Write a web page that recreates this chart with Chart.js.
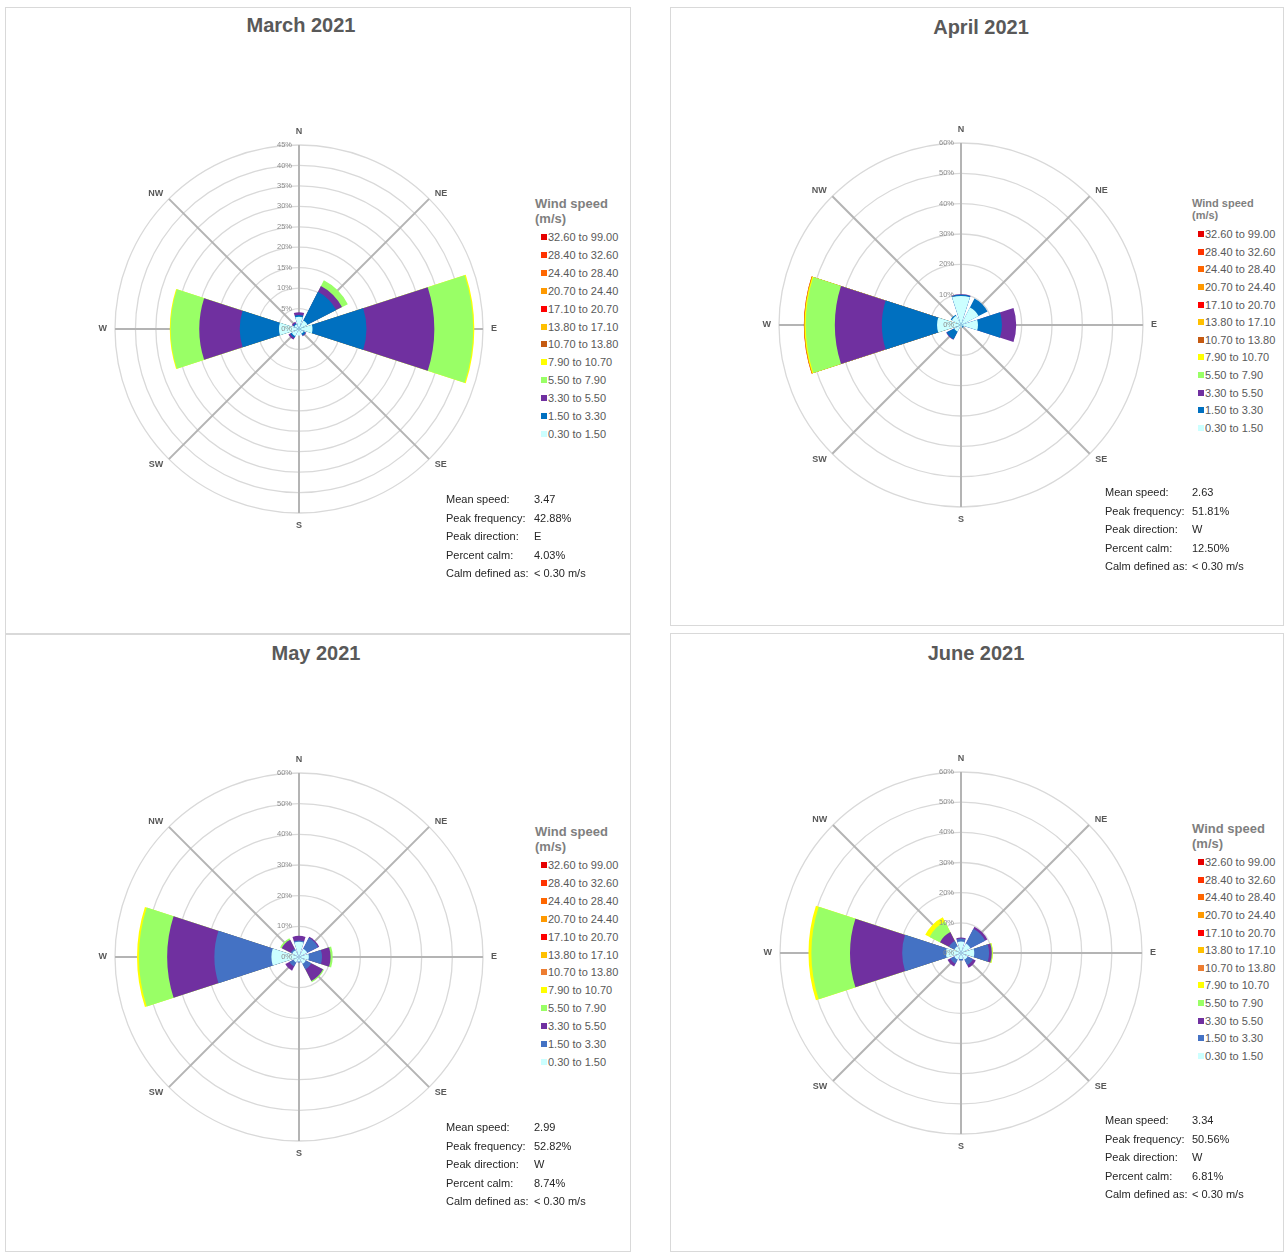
<!DOCTYPE html>
<html>
<head>
<meta charset="utf-8">
<script src="https://cdn.jsdelivr.net/npm/chart.js@4.4.1/dist/chart.umd.min.js"></script>
<style>
  body { margin: 0; width: 1285px; height: 1252px; position: relative; background: #fff; overflow: hidden;
         font-family: 'Liberation Sans', Arial, sans-serif; }
  .box { position: absolute; border: 1px solid #d9d9d9; box-sizing: border-box; }
  .title { position: absolute; font-weight: bold; font-size: 20px; color: #595959; white-space: nowrap; transform: translate(-50%, -50%); }
  .txt { position: absolute; white-space: nowrap; transform: translateY(-50%); line-height: 1; }
  .sq { position: absolute; width: 6px; height: 6px; }
  canvas { position: absolute; }
</style>
</head>
<body>
<script>
// ---- data ----
var directions = ['N', 'NE', 'E', 'SE', 'S', 'SW', 'W', 'NW'];
var speedBins = ['0.30 to 1.50', '1.50 to 3.30', '3.30 to 5.50', '5.50 to 7.90', '7.90 to 10.70', '10.70 to 13.80',
                 '13.80 to 17.10', '17.10 to 20.70', '20.70 to 24.40', '24.40 to 28.40', '28.40 to 32.60', '32.60 to 99.00'];
var statLabels = ['Mean speed:', 'Peak frequency:', 'Peak direction:', 'Percent calm:', 'Calm defined as:'];

// % of time per direction (N, NE, E, SE, S, SW, W, NW), one row per speed bin
var marchFreq = [
    [3.0, 2.3, 3.3, 1.3, 1.6, 2.0, 4.9, 1.3],
    [0.4, 7.9, 13.2, 0.5, 0, 0.4, 9.6, 0.3],
    [0.7, 1.6, 16.6, 0.2, 0, 0.5, 9.9, 0.4],
    [0, 1.6, 9.5, 0, 0, 0, 7.0, 0],
    [0, 0, 0.28, 0, 0, 0, 0.2, 0],
    [0, 0, 0, 0, 0, 0, 0, 0],
    [0, 0, 0, 0, 0, 0, 0, 0],
    [0, 0, 0, 0, 0, 0, 0, 0],
    [0, 0, 0, 0, 0, 0, 0, 0],
    [0, 0, 0, 0, 0, 0, 0, 0],
    [0, 0, 0, 0, 0, 0, 0, 0],
    [0, 0, 0, 0, 0, 0, 0, 0]
];
var aprilFreq = [
    [9.6, 6.5, 5.6, 0.6, 0.8, 2.5, 7.9, 3.4],
    [0.4, 3.3, 7.9, 0.4, 0, 2.8, 18.2, 0.4],
    [0.1, 0, 4.7, 0, 0, 0.2, 15.5, 0],
    [0, 0, 0, 0, 0, 0, 9.6, 0],
    [0, 0, 0, 0, 0, 0, 0.4, 0],
    [0, 0, 0, 0, 0, 0, 0.08, 0],
    [0, 0, 0, 0, 0, 0, 0.06, 0],
    [0, 0, 0, 0, 0, 0, 0.07, 0],
    [0, 0, 0, 0, 0, 0, 0, 0],
    [0, 0, 0, 0, 0, 0, 0, 0],
    [0, 0, 0, 0, 0, 0, 0, 0],
    [0, 0, 0, 0, 0, 0, 0, 0]
];
var mayFreq = [
    [5.0, 3.0, 3.2, 2.5, 1.5, 2.0, 9.0, 2.5],
    [0.4, 4.0, 4.3, 2.0, 0.3, 1.5, 18.6, 0.5],
    [1.5, 0.4, 2.8, 4.3, 0, 1.5, 15.4, 3.3],
    [0, 0, 0.7, 0.4, 0, 0, 9.2, 0.6],
    [0, 0, 0, 0, 0, 0, 0.62, 0],
    [0, 0, 0, 0, 0, 0, 0, 0],
    [0, 0, 0, 0, 0, 0, 0, 0],
    [0, 0, 0, 0, 0, 0, 0, 0],
    [0, 0, 0, 0, 0, 0, 0, 0],
    [0, 0, 0, 0, 0, 0, 0, 0],
    [0, 0, 0, 0, 0, 0, 0, 0],
    [0, 0, 0, 0, 0, 0, 0, 0]
];
var juneFreq = [
    [3.8, 3.5, 4.4, 2.5, 2.0, 2.5, 5.0, 2.5],
    [1.0, 5.5, 4.9, 2.0, 0.5, 1.5, 14.5, 2.0],
    [0.3, 0.8, 0.9, 1.0, 0, 1.0, 17.3, 3.3],
    [0, 0, 0.3, 0, 0, 0, 12.8, 3.9],
    [0, 0, 0.1, 0, 0, 0, 0.96, 1.6],
    [0, 0, 0, 0, 0, 0, 0, 0],
    [0, 0, 0, 0, 0, 0, 0, 0],
    [0, 0, 0, 0, 0, 0, 0, 0],
    [0, 0, 0, 0, 0, 0, 0, 0],
    [0, 0, 0, 0, 0, 0, 0, 0],
    [0, 0, 0, 0, 0, 0, 0, 0],
    [0, 0, 0, 0, 0, 0, 0, 0]
];

var marchStats = ['3.47', '42.88%', 'E', '4.03%', '< 0.30 m/s'];
var aprilStats = ['2.63', '51.81%', 'W', '12.50%', '< 0.30 m/s'];
var mayStats = ['2.99', '52.82%', 'W', '8.74%', '< 0.30 m/s'];
var juneStats = ['3.34', '50.56%', 'W', '6.81%', '< 0.30 m/s'];

// ---- styles ----
var colorsA = ['#ccffff', '#0070c0', '#7030a0', '#99ff66', '#ffff00', '#c55a11',
               '#ffc000', '#ff0000', '#ff9900', '#ff6600', '#ff3300', '#e60000'];
var colorsB = ['#ccffff', '#4472c4', '#7030a0', '#99ff66', '#ffff00', '#ed7d31',
               '#ffc000', '#ff0000', '#ff9900', '#ff6600', '#ff3300', '#e60000'];

var panels = [
    { title: 'March 2021', freq: marchFreq, stats: marchStats, max: 45, step: 5, colors: colorsA,
      box: [5, 7, 626, 627], titlePos: [301, 25], cx: 299, cy: 329, radius: 184,
      legend: { x: 535, y: 203, titleSize: 13, titleGap: 15, first: 237, step: 17.9 },
      statPos: { x: 446, vx: 534, y: 499 } },
    { title: 'April 2021', freq: aprilFreq, stats: aprilStats, max: 60, step: 10, colors: colorsA,
      box: [670, 7, 614, 619], titlePos: [981, 27], cx: 961, cy: 325, radius: 182,
      legend: { x: 1192, y: 203, titleSize: 11, titleGap: 12, first: 234, step: 17.64 },
      statPos: { x: 1105, vx: 1192, y: 492 } },
    { title: 'May 2021', freq: mayFreq, stats: mayStats, max: 60, step: 10, colors: colorsB,
      box: [5, 634, 626, 618], titlePos: [316, 653], cx: 299, cy: 957, radius: 184,
      legend: { x: 535, y: 831, titleSize: 13, titleGap: 15, first: 865, step: 17.9 },
      statPos: { x: 446, vx: 534, y: 1127 } },
    { title: 'June 2021', freq: juneFreq, stats: juneStats, max: 60, step: 10, colors: colorsB,
      box: [670, 633, 614, 619], titlePos: [976, 653], cx: 961, cy: 953, radius: 181,
      legend: { x: 1192, y: 828, titleSize: 13, titleGap: 15, first: 862, step: 17.64 },
      statPos: { x: 1105, vx: 1192, y: 1120 } }
];

var PAD = 30;

// 40 spokes of 9 degrees starting at -18; the compass names sit on every 5th one
var spokeLabels = [];
for (var i = 0; i < 40; i++) {
    spokeLabels.push((i - 2) % 5 === 0 ? directions[(i - 2) / 5] : '');
}

// bar 36 deg, gap 9 deg, alternating
function sliceAngle(ctx) {
    return ctx.dataIndex % 2 === 0 ? 36 : 9;
}

// percent labels left of the north spoke (over the bars) and the compass names
var roseTextPlugin = {
    id: 'roseText',
    afterDatasetsDraw: function(chart) {
        var scale = chart.scales.r, ctx = chart.ctx;
        ctx.save();
        ctx.font = '7.5px "Liberation Sans", Arial, sans-serif';
        ctx.fillStyle = '#8c8c8c';
        ctx.textAlign = 'right';
        ctx.textBaseline = 'middle';
        scale.ticks.forEach(function(t) {
            ctx.fillText(t.value + '%', scale.xCenter - 7, scale.yCenter - scale.getDistanceFromCenterForValue(t.value));
        });

        ctx.font = 'bold 9px "Liberation Sans", Arial, sans-serif';
        ctx.fillStyle = '#595959';
        spokeLabels.forEach(function(lab, i) {
            if (!lab) return;
            var d = directions.indexOf(lab);
            var pos = scale.getPointPosition(i, scale.drawingArea + (d % 4 === 0 ? 13 : 8));
            var dx = pos.x - scale.xCenter;
            ctx.textAlign = Math.abs(dx) < 1 ? 'center' : (dx > 0 ? 'left' : 'right');
            ctx.fillText(lab, pos.x, pos.y);
        });
        ctx.restore();
    }
};

function addDiv(cls, x, y, text, css) {
    var d = document.createElement('div');
    d.className = cls;
    d.style.left = x + 'px';
    d.style.top = y + 'px';
    if (text !== undefined) d.textContent = text;
    if (css) Object.assign(d.style, css);
    document.body.appendChild(d);
    return d;
}

function drawWindRose(p) {
    var box = addDiv('box', p.box[0], p.box[1]);
    box.style.width = p.box[2] + 'px';
    box.style.height = p.box[3] + 'px';
    addDiv('title', p.titlePos[0], p.titlePos[1], p.title);

    var size = 2 * (p.radius + PAD);
    var canvas = document.createElement('canvas');
    canvas.width = size;
    canvas.height = size;
    canvas.style.width = size + 'px';
    canvas.style.height = size + 'px';
    canvas.style.left = (p.cx - size / 2) + 'px';
    canvas.style.top = (p.cy - size / 2) + 'px';
    document.body.appendChild(canvas);

    // running totals per band; first dataset paints last, so the slowest band ends up on top
    var running = directions.map(function() { return 0; });
    var datasets = [];
    p.freq.forEach(function(row, b) {
        running = running.map(function(v, d) { return v + row[d]; });
        var slices = [];
        running.forEach(function(v, d) {
            slices.push(row[d] > 0 ? v : 0, 0);
        });
        datasets.push({
            label: speedBins[b],
            data: slices,
            backgroundColor: p.colors[b],
            borderWidth: 0,
            angle: sliceAngle
        });
    });

    new Chart(canvas, {
        type: 'polarArea',
        data: { labels: spokeLabels, datasets: datasets },
        options: {
            responsive: false,
            animation: false,
            devicePixelRatio: 1,
            layout: { padding: PAD },
            plugins: { legend: { display: false }, tooltip: { enabled: false } },
            scales: {
                r: {
                    min: 0,
                    max: p.max,
                    startAngle: -18,
                    ticks: { display: false, stepSize: p.step },
                    grid: { circular: true, color: '#d9d9d9', lineWidth: 1.3 },
                    angleLines: {
                        display: true,
                        color: '#b4b4b4',
                        lineWidth: function(c) { return c.label ? 2 : 0; }
                    },
                    pointLabels: { display: false }
                }
            }
        },
        plugins: [roseTextPlugin]
    });

    // legend: highest speed first
    var lg = p.legend;
    var tcss = { fontSize: lg.titleSize + 'px', fontWeight: 'bold', color: '#7f7f7f' };
    addDiv('txt', lg.x, lg.y, 'Wind speed', tcss);
    addDiv('txt', lg.x, lg.y + lg.titleGap, '(m/s)', tcss);
    for (var k = 0; k < speedBins.length; k++) {
        var b = speedBins.length - 1 - k;
        var yy = lg.first + k * lg.step;
        addDiv('sq', lg.x + 6, yy - 3, undefined, { background: p.colors[b] });
        addDiv('txt', lg.x + 13, yy, speedBins[b], { fontSize: '11px', color: '#595959' });
    }

    // summary block
    var sp = p.statPos;
    statLabels.forEach(function(lab, s) {
        var y = sp.y + s * 18.5;
        addDiv('txt', sp.x, y, lab, { fontSize: '11px', color: '#262626' });
        addDiv('txt', sp.vx, y, p.stats[s], { fontSize: '11px', color: '#262626' });
    });
}

panels.forEach(drawWindRose);
</script>
</body>
</html>
